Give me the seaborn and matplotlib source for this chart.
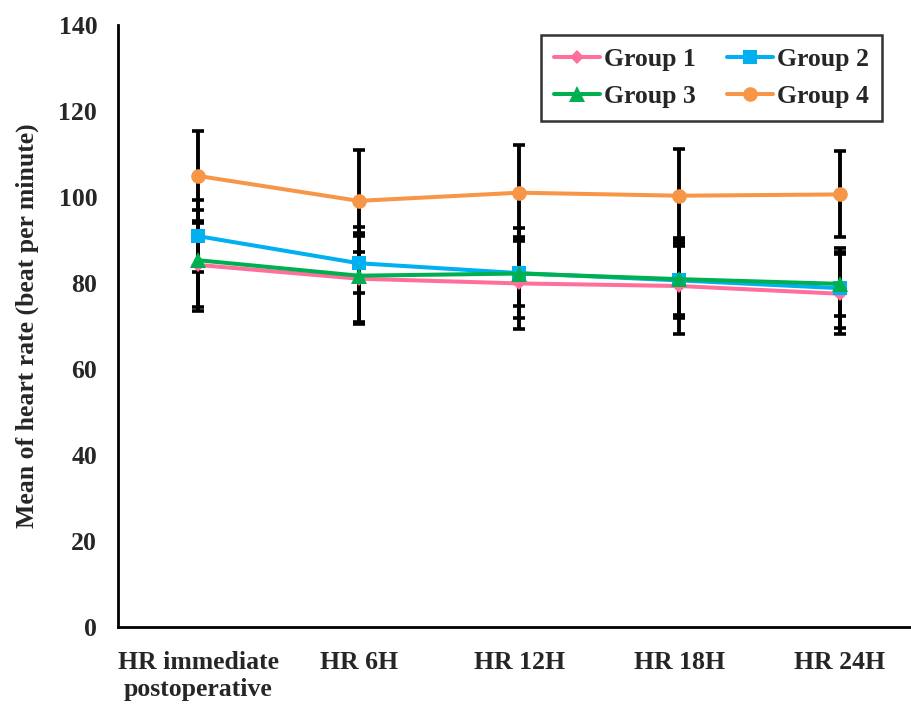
import matplotlib
matplotlib.use("Agg")
import matplotlib.pyplot as plt
import seaborn as sns
import pandas as pd
import numpy as np

categories = ["HR immediate\npostoperative", "HR 6H", "HR 12H", "HR 18H", "HR 24H"]
groups = ["Group 1", "Group 2", "Group 3", "Group 4"]
g1_mean = [84.2, 81.0, 79.9, 79.3, 77.5]
g1_sd = [9.8, 10.0, 10.7, 11.2, 9.3]
g2_mean = [90.9, 84.6, 82.3, 80.6, 78.8]
g2_sd = [8.4, 7.0, 10.5, 8.0, 9.3]
g3_mean = [85.3, 81.7, 82.2, 80.9, 79.8]
g3_sd = [11.7, 11.3, 7.5, 9.1, 7.5]
g4_mean = [104.9, 99.1, 101.0, 100.3, 100.6]
g4_sd = [10.5, 11.8, 11.1, 10.9, 10.0]

means = [g1_mean, g2_mean, g3_mean, g4_mean]
sds = [g1_sd, g2_sd, g3_sd, g4_sd]
colors = ["#FF6F9C", "#00B0F0", "#00B050", "#F79646"]
markers = ["D", "s", "^", "o"]
msizes = [7, 10, 11, 10.5]

sns.set_style("white")
plt.rcParams["font.family"] = ["Liberation Serif", "DejaVu Serif"]
plt.rcParams["font.weight"] = "bold"

FS = 18.5

rows = []
for g, m in zip(groups, means):
    for i, v in enumerate(m):
        rows.append({"group": g, "x": i, "mean": v})
df = pd.DataFrame(rows)

fig = plt.figure(figsize=(9.12, 7.04), dpi=100)
ax = fig.add_axes([118/912, 77/704, 802/912, 602/704])

xs = np.arange(len(categories))
for m, s in zip(means, sds):
    ax.errorbar(xs, m, yerr=s, fmt="none", ecolor="black", elinewidth=2.8,
                capsize=4.2, capthick=2.6, zorder=1)

for g, c, mk, ms in zip(groups, colors, markers, msizes):
    sub = df[df["group"] == g]
    sns.lineplot(data=sub, x="x", y="mean", ax=ax, color=c, marker=mk,
                 markersize=ms, markeredgewidth=0, linewidth=2.9, label=g,
                 zorder=3, errorbar=None)

ax.set_xlim(-0.5, 4.5)
ax.set_ylim(0, 140)
ax.set_yticks(np.arange(0, 141, 20))
ax.set_xticks(xs)
ax.set_xticklabels(categories, fontsize=FS, fontweight="bold", linespacing=1.25)
ax.set_xticks(np.arange(0.5, 4.0, 1.0), minor=True)
ax.tick_params(axis="x", which="major", length=0, pad=17)
ax.tick_params(axis="x", which="minor", length=7, width=2, direction="out", color="black")
ax.tick_params(axis="y", which="major", length=7, width=2, direction="out", color="black",
               labelsize=FS, pad=8)
for lab in ax.get_yticklabels():
    lab.set_fontweight("bold")
ax.set_xlabel("")
ax.set_ylabel("Mean of heart rate (beat per minute)", fontsize=FS, fontweight="bold", labelpad=14)

for sp in ["top", "right"]:
    ax.spines[sp].set_visible(False)
for sp in ["left", "bottom"]:
    ax.spines[sp].set_color("black")
    ax.spines[sp].set_linewidth(2)

handles, labels = ax.get_legend_handles_labels()
order = [0, 2, 1, 3]
leg = ax.legend([handles[i] for i in order], [labels[i] for i in order],
                loc="upper right", bbox_to_anchor=((882-118)/802, (704-35-77)/602),
                borderaxespad=0,
                ncol=2, frameon=True, fancybox=False, edgecolor="black",
                prop={"family": "Liberation Serif", "weight": "bold", "size": FS},
                handlelength=1.8, handletextpad=0.15, columnspacing=1.2,
                borderpad=0.5, labelspacing=0.55)
leg.get_frame().set_linewidth(1.8)

fig.savefig("out.png", dpi=100)
